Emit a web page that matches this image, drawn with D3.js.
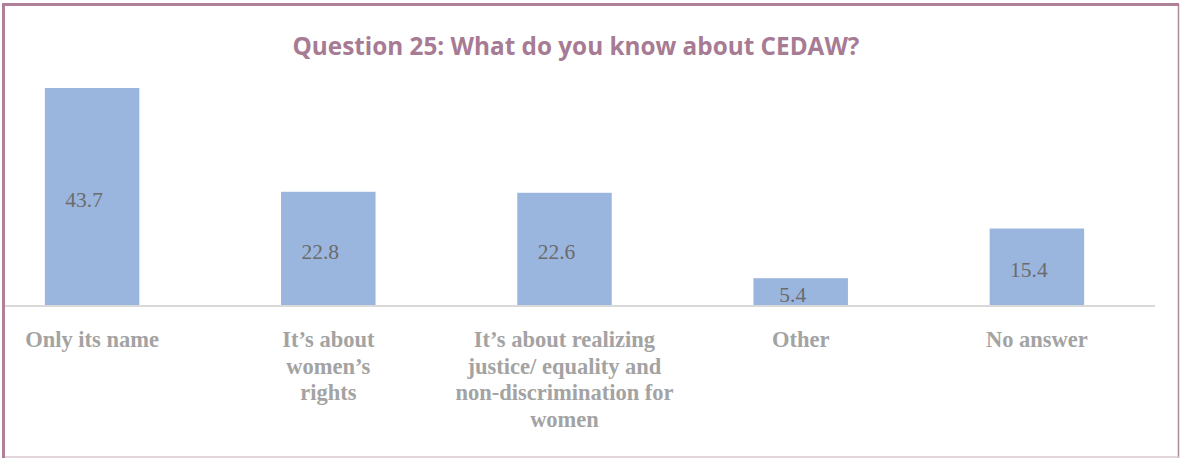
<!DOCTYPE html>
<html>
<head>
<meta charset="utf-8">
<script src="https://cdn.jsdelivr.net/npm/d3@7"></script>
<style>
  html, body { margin: 0; padding: 0; background: #fff; }
  svg { display: block; }
</style>
</head>
<body>
<svg id="chart" width="1180" height="458"></svg>
<script>
// Survey answers: share of respondents (%)
const categories = [
  "Only its name",
  "It’s about women’s rights",
  "It’s about realizing justice/ equality and non-discrimination for women",
  "Other",
  "No answer"
];
const values = [43.7, 22.8, 22.6, 5.4, 15.4];
// Wrapped category labels, one array of lines per category
const labelLines = [
  ["Only its name"],
  ["It’s about", "women’s", "rights"],
  ["It’s about realizing", "justice/ equality and", "non-discrimination for", "women"],
  ["Other"],
  ["No answer"]
];
const titleText = "Question 25: What do you know about CEDAW?";

const svg = d3.select("#chart");
const W = 1180, H = 458;
const baseY = 305;

// Frame
svg.append("rect").attr("x", 0).attr("y", 0).attr("width", W).attr("height", H).attr("fill", "#fff");
svg.append("line").attr("x1", 1178.5).attr("x2", 1178.5).attr("y1", 4).attr("y2", 458)
  .attr("stroke", "#a78c9c").attr("stroke-width", 1.5);
svg.append("line").attr("x1", 4).attr("x2", 1179).attr("y1", 457).attr("y2", 457)
  .attr("stroke", "#d9c7d0").attr("stroke-width", 1.5);
svg.append("line").attr("x1", 2).attr("x2", 1179).attr("y1", 4.5).attr("y2", 4.5)
  .attr("stroke", "#b07f98").attr("stroke-width", 3);
svg.append("line").attr("x1", 3.5).attr("x2", 3.5).attr("y1", 3).attr("y2", 458)
  .attr("stroke", "#b07f98").attr("stroke-width", 3);

// Title
svg.append("text")
  .attr("x", 576).attr("y", 55)
  .attr("text-anchor", "middle")
  .attr("font-family", "'Open Sans', sans-serif")
  .attr("font-weight", 700)
  .attr("font-size", 24.3)
  .attr("fill", "#a67b93")
  .text(titleText);

// Scales
const x = d3.scaleBand()
  .domain(categories)
  .range([-26, 1155])
  .paddingInner(0.6)
  .paddingOuter(0.3);

const y = d3.scaleLinear()
  .domain([0, 43.7])
  .range([baseY, 88]);

// Bars
svg.append("g").selectAll("rect")
  .data(values)
  .join("rect")
  .attr("x", (d, i) => x(categories[i]))
  .attr("y", d => y(d))
  .attr("width", x.bandwidth())
  .attr("height", d => baseY - y(d))
  .attr("fill", "#9bb6de");

// Category axis line
svg.append("line")
  .attr("x1", 5).attr("x2", 1155)
  .attr("y1", baseY + 1).attr("y2", baseY + 1)
  .attr("stroke", "#d9d9d9").attr("stroke-width", 2);

// Value labels inside bars
svg.append("g").selectAll("text")
  .data(values)
  .join("text")
  .attr("x", (d, i) => x(categories[i]) + x.bandwidth() / 2 - 8)
  .attr("y", d => (y(d) + baseY) / 2 + 10.5)
  .attr("text-anchor", "middle")
  .attr("font-family", "'Liberation Serif', 'Times New Roman', serif")
  .attr("font-size", 21.5)
  .attr("fill", "#6b6b6b")
  .text(d => d.toFixed(1));

// Category labels
const lab = svg.append("g").selectAll("text")
  .data(labelLines)
  .join("text")
  .attr("text-anchor", "middle")
  .attr("font-family", "'Liberation Serif', 'Times New Roman', serif")
  .attr("font-weight", 700)
  .attr("font-size", 22.5)
  .attr("fill", "#a3a3a3");
lab.each(function(lines, i) {
  const cx = x(categories[i]) + x.bandwidth() / 2;
  d3.select(this).selectAll("tspan")
    .data(lines)
    .join("tspan")
    .attr("x", cx)
    .attr("y", (l, j) => 347 + j * 26.5)
    .text(l => l);
});
</script>
</body>
</html>
